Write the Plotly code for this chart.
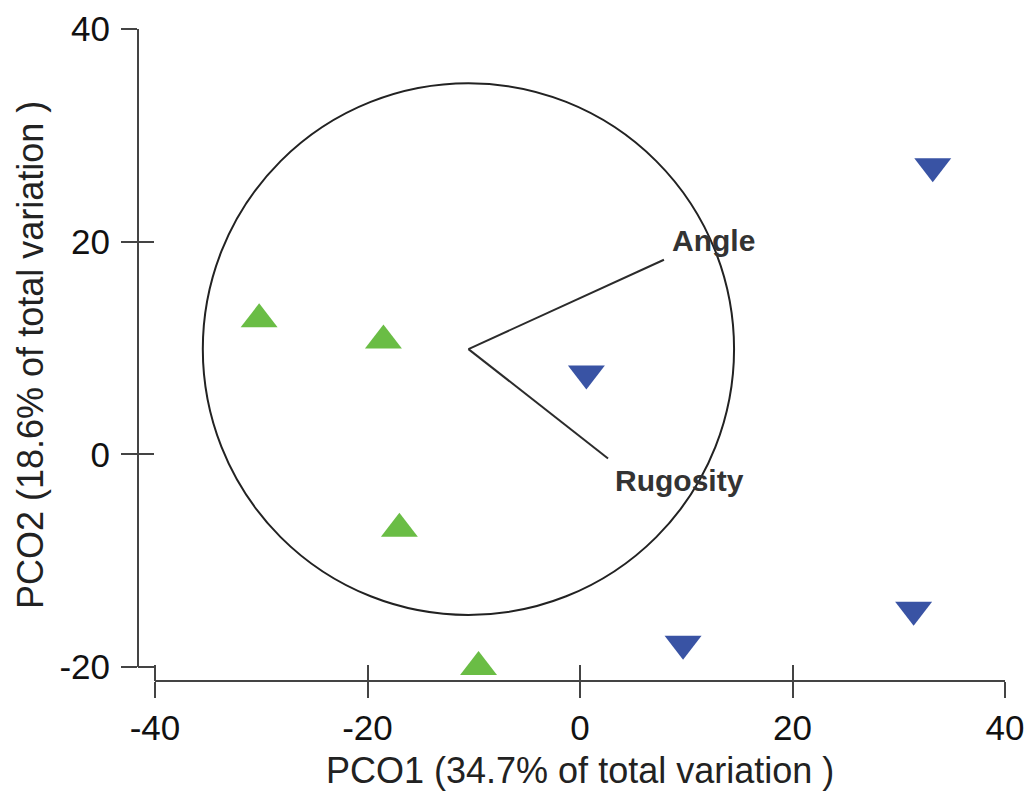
import plotly.graph_objects as go

# ---- data ----
group_a_x = [-30.2, -18.5, -17.0, -9.55]
group_a_y = [12.7, 10.7, -7.0, -20.0]
group_b_x = [33.2, 0.6, 9.7, 31.4]
group_b_y = [27.1, 7.6, -17.8, -14.6]

vector_names = ["Angle", "Rugosity"]
vector_end_x = [7.9, 2.64]
vector_end_y = [18.3, -0.38]

circle_center_x = -10.5
circle_center_y = 9.9
circle_radius = 25.0

x_tickvals = [-40, -20, 0, 20, 40]
x_ticktext = ["-40", "-20", "0", "20", "40"]
y_tickvals = [-20, 0, 20, 40]
y_ticktext = ["-20", "0", "20", "40"]

x_title = "PCO1 (34.7% of total variation )"
y_title = "PCO2 (18.6% of total variation )"

# ---- styles ----
FONT = "Liberation Sans, Arial, sans-serif"
AX_COL = "#444444"
GREEN = "#6abd45"
BLUE = "#3953a4"

x_range = [-41.6, 40]
y_range = [-21.31, 40]

fig = go.Figure()

# vectors
vx, vy = [], []
for ex, ey in zip(vector_end_x, vector_end_y):
    vx += [circle_center_x, ex, None]
    vy += [circle_center_y, ey, None]
fig.add_trace(go.Scatter(x=vx, y=vy, mode="lines",
                         line=dict(color="#2b2b2b", width=2),
                         showlegend=False, hoverinfo="skip"))

fig.add_trace(go.Scatter(x=group_a_x, y=group_a_y, mode="markers",
                         marker=dict(symbol="triangle-up", size=32, color=GREEN,
                                     line=dict(width=0)),
                         showlegend=False, cliponaxis=False))
fig.add_trace(go.Scatter(x=group_b_x, y=group_b_y, mode="markers",
                         marker=dict(symbol="triangle-down", size=32, color=BLUE,
                                     line=dict(width=0)),
                         showlegend=False, cliponaxis=False))

# dummy trace on overlay axes so they render (inside ticks)
fig.add_trace(go.Scatter(x=[None], y=[None], xaxis="x2", yaxis="y2",
                         showlegend=False, hoverinfo="skip"))

shapes = [
    dict(type="circle", xref="x", yref="y",
         x0=circle_center_x - circle_radius, x1=circle_center_x + circle_radius,
         y0=circle_center_y - circle_radius, y1=circle_center_y + circle_radius,
         line=dict(color="#222222", width=2), layer="below"),
    # y axis line (from -20 to 40)
    dict(type="line", xref="paper", yref="y", x0=0, x1=0,
         y0=y_tickvals[0], y1=y_tickvals[-1], line=dict(color=AX_COL, width=2)),
    # x axis line (from -40 to 40)
    dict(type="line", xref="x", yref="paper", x0=x_tickvals[0], x1=x_tickvals[-1],
         y0=0, y1=0, line=dict(color=AX_COL, width=2)),
]

annotations = []
shifts = {"Angle": (6, 19), "Rugosity": (5, -22)}
for name, ex, ey in zip(vector_names, vector_end_x, vector_end_y):
    dx, dy = shifts[name]
    annotations.append(dict(x=ex, y=ey, xref="x", yref="y", text="<b>%s</b>" % name,
                            showarrow=False, xanchor="left", yanchor="middle",
                            xshift=dx, yshift=dy,
                            font=dict(family=FONT, size=30, color="#333333")))

annotations.append(dict(x=0, y=0, xref="x", yref="paper", text=x_title,
                        showarrow=False, xanchor="center", yanchor="middle",
                        yshift=-89, font=dict(family=FONT, size=36, color="#222222")))
annotations.append(dict(x=0, y=0.5, xref="paper", yref="paper", text=y_title,
                        showarrow=False, xanchor="center", yanchor="middle",
                        textangle=-90, xshift=-108,
                        font=dict(family=FONT, size=36, color="#222222")))

axis_common = dict(showgrid=False, zeroline=False, showline=False, automargin=False,
                   tickcolor=AX_COL, tickwidth=2, ticklen=16)

fig.update_layout(
    width=1030, height=791,
    margin=dict(l=138, r=25, t=29, b=110, autoexpand=False),
    paper_bgcolor="white", plot_bgcolor="white",
    xaxis=dict(range=x_range, tickvals=x_tickvals, ticktext=x_ticktext, ticks="outside",
               tickfont=dict(family=FONT, size=35, color="#111111"), **axis_common),
    yaxis=dict(range=y_range, tickvals=y_tickvals, ticktext=y_ticktext, ticks="outside",
               ticklabelstandoff=4,
               tickfont=dict(family=FONT, size=35, color="#111111"), **axis_common),
    xaxis2=dict(range=x_range, tickvals=x_tickvals, ticks="inside", overlaying="x",
                anchor="y2", showticklabels=False, **axis_common),
    yaxis2=dict(range=y_range, tickvals=y_tickvals, ticks="inside", overlaying="y",
                anchor="x2", showticklabels=False, **axis_common),
    shapes=shapes, annotations=annotations,
    showlegend=False,
)

fig.write_html("out.html", config={"displayModeBar": False},
               post_script="document.body.style.margin='0';document.body.style.padding='0';"
                           "document.documentElement.style.overflow='hidden';")
